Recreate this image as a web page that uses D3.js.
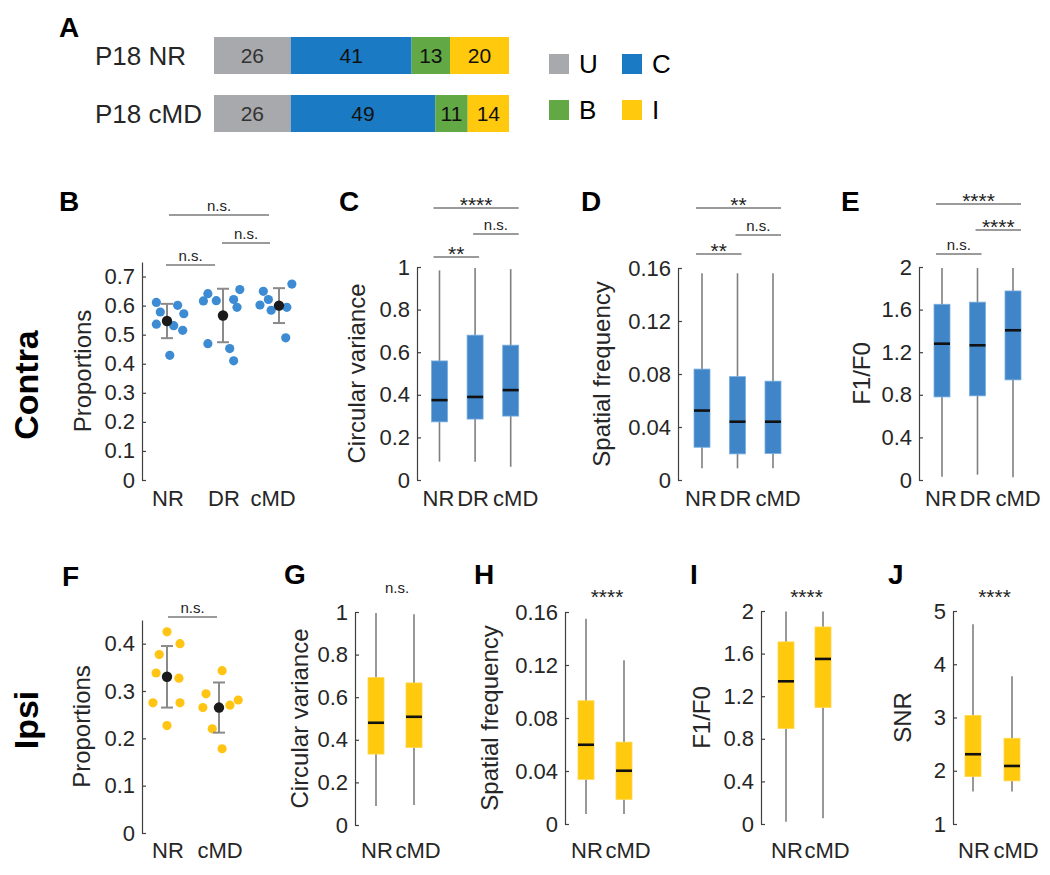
<!DOCTYPE html>
<html>
<head>
<meta charset="utf-8">
<script src="https://cdn.jsdelivr.net/npm/d3@7"></script>
<style>
  body { margin: 0; background: #fff; }
  svg text { font-family: Arial, "Liberation Sans", Helvetica, sans-serif; fill: #262626; }
</style>
</head>
<body>
<svg id="fig" width="1050" height="875"></svg>
<script>
// ---------------- data ----------------
// A: percentage of cells per class
var stackRows = ["P18 NR", "P18 cMD"];
var stackKeys = ["U", "C", "B", "I"];
var stackNR = [26, 41, 13, 20];
var stackCMD = [26, 49, 11, 14];

// B: contra proportions, one value per animal
var contraGroups = ["NR", "DR", "cMD"];
var propContraNR = [0.611, 0.578, 0.536, 0.601, 0.572, 0.531, 0.515, 0.429];
var propContraDR = [0.616, 0.641, 0.617, 0.621, 0.655, 0.594, 0.469, 0.452, 0.410];
var propContraCMD = [0.602, 0.649, 0.621, 0.584, 0.594, 0.674, 0.489];
var jitContraNR = [-0.19, -0.12, -0.19, 0.19, 0.30, 0.12, 0.28, 0.05];
var jitContraDR = [-0.35, -0.27, -0.12, 0.19, 0.30, 0.25, -0.27, 0.12, 0.19];
var jitContraCMD = [-0.34, -0.28, -0.19, -0.14, 0.14, 0.23, 0.12];
var propContraMean = [0.547, 0.566, 0.600];
var propContraSD = [0.059, 0.092, 0.060];

// box stats: [whisker low, q1, median, q3, whisker high]
var cvContra = [[0.086, 0.273, 0.375, 0.559, 0.984], [0.086, 0.286, 0.390, 0.680, 0.995], [0.062, 0.300, 0.422, 0.633, 0.990]];
var sfContra = [[0.0088, 0.0247, 0.0524, 0.0837, 0.156], [0.0088, 0.0197, 0.0440, 0.0780, 0.156], [0.0088, 0.0200, 0.0440, 0.0746, 0.156]];
var f1Contra = [[0.03, 0.78, 1.28, 1.65, 1.99], [0.05, 0.79, 1.265, 1.67, 1.99], [0.025, 0.94, 1.406, 1.775, 1.99]];

// F: ipsi proportions
var ipsiGroups = ["NR", "cMD"];
var propIpsiNR = [0.425, 0.377, 0.400, 0.338, 0.327, 0.275, 0.275, 0.227];
var propIpsiCMD = [0.343, 0.294, 0.281, 0.270, 0.265, 0.220, 0.178];
var jitIpsiNR = [0, -0.15, 0.25, -0.21, 0.23, -0.27, 0.25, 0];
var jitIpsiCMD = [0.06, -0.25, 0.37, 0.21, -0.31, -0.13, 0.06];
var propIpsiMean = [0.33, 0.265];
var propIpsiSD = [0.065, 0.053];

var cvIpsi = [[0.089, 0.333, 0.480, 0.692, 0.995], [0.094, 0.364, 0.508, 0.667, 0.990]];
var sfIpsi = [[0.0075, 0.0337, 0.0598, 0.093, 0.155], [0.0075, 0.0186, 0.0402, 0.0618, 0.1236]];
var f1Ipsi = [[0.022, 0.897, 1.34, 1.71, 1.995], [0.053, 1.094, 1.55, 1.85, 1.995]];
var snrIpsi = [[1.61, 1.89, 2.31, 3.04, 4.75], [1.61, 1.81, 2.09, 2.61, 3.775]];

// tick values
var ticksPropContra = [0, 0.1, 0.2, 0.3, 0.4, 0.5, 0.6, 0.7];
var ticksPropIpsi = [0, 0.1, 0.2, 0.3, 0.4];
var ticksCV = [0, 0.2, 0.4, 0.6, 0.8, 1];
var ticksSF = [0, 0.04, 0.08, 0.12, 0.16];
var ticksF1 = [0, 0.4, 0.8, 1.2, 1.6, 2];
var ticksSNR = [1, 2, 3, 4, 5];

// significance: [from, to, label]
var sigB = [["NR", "cMD", "n.s."], ["DR", "cMD", "n.s."], ["NR", "DR", "n.s."]];
var sigC = [["NR", "cMD", "****"], ["DR", "cMD", "n.s."], ["NR", "DR", "**"]];
var sigD = [["NR", "cMD", "**"], ["DR", "cMD", "n.s."], ["NR", "DR", "**"]];
var sigE = [["NR", "cMD", "****"], ["DR", "cMD", "****"], ["NR", "DR", "n.s."]];
var sigF = [["NR", "cMD", "n.s."]];

// ---------------- drawing ----------------
var svg = d3.select("#fig");
var BLUE = "#3f85c7", BLUE_DOT = "#3d8cd3", YELLOW = "#ffc90e", YELLOW_DOT = "#ffc414";
var stackColors = d3.scaleOrdinal().domain(stackKeys).range(["#a7a9ac", "#1a7bc4", "#62a845", "#ffc90e"]);
var TICK_FS = 22, LABEL_FS = 24;

function letter(t, x, y) {
  svg.append("text").attr("x", x).attr("y", y)
    .attr("font-size", 28).attr("font-weight", "bold").style("fill", "#000").text(t);
}

function fmt(d) { return String(+d.toFixed(4)); }

function yAxis(ax, y, ticks, minor, label, labelX) {
  var g = svg.append("g").attr("transform", "translate(" + ax + ",0)");
  g.call(d3.axisLeft(y).tickValues(minor).tickSize(-4).tickSizeOuter(0).tickFormat(""));
  g.call(d3.axisLeft(y).tickValues(ticks).tickSize(-4).tickSizeOuter(0).tickPadding(7).tickFormat(fmt));
  g.selectAll("path, line").attr("stroke", "#404040").attr("stroke-width", 1.2);
  g.selectAll("text").attr("font-size", TICK_FS).attr("font-family", null).attr("fill", null);
  var mid = (y.range()[0] + y.range()[1]) / 2;
  svg.append("text").attr("transform", "translate(" + labelX + "," + mid + ") rotate(-90)")
    .attr("text-anchor", "middle").attr("dy", "0.35em").attr("font-size", LABEL_FS).text(label);
}

// category labels: nudged apart a bit so the words don't touch
function xLabels(x, groups, yPos, shift) {
  shift = shift || (groups.length === 3 ? [-1, -2, 5] : [1, 4]);
  svg.append("g").selectAll("text").data(groups).join("text")
    .attr("x", function(d, i) { return x(d) + shift[i]; }).attr("y", yPos)
    .attr("text-anchor", "middle").attr("font-size", TICK_FS).text(function(d) { return d; });
}

function brackets(x, sig, ys, padL, padR) {
  var g = svg.append("g");
  sig.forEach(function(s, i) {
    var x1 = x(s[0]) + padL[i], x2 = x(s[1]) + padR[i], ly = ys[i];
    g.append("line").attr("x1", x1).attr("x2", x2).attr("y1", ly).attr("y2", ly)
      .attr("stroke", "#7a7a7a").attr("stroke-width", 1.6);
    sigText(g, (x1 + x2) / 2, ly, s[2]);
  });
}

function sigText(g, cx, ly, label) {
  var star = label.indexOf("*") >= 0;
  g.append("text").attr("x", cx).attr("y", star ? ly + 4 : ly - 4)
    .attr("text-anchor", "middle").attr("font-size", star ? 21 : 15)
    .style("fill", "#222").text(label);
}

function boxPanel(o) {
  var y = d3.scaleLinear().domain(o.domain).range(o.yRange);
  var x = d3.scalePoint().domain(o.groups).range(o.xRange);
  yAxis(o.ax, y, o.ticks, o.minor, o.label, o.labelX);
  var g = svg.append("g");
  var bw = 16;
  g.selectAll(".wh").data(o.stats).join("line").attr("class", "wh")
    .attr("x1", function(d, i) { return x(o.groups[i]); })
    .attr("x2", function(d, i) { return x(o.groups[i]); })
    .attr("y1", function(d) { return y(d[0]); })
    .attr("y2", function(d) { return y(d[4]); })
    .attr("stroke", "#7f7f7f").attr("stroke-width", 1.6);
  g.selectAll(".bx").data(o.stats).join("rect").attr("class", "bx")
    .attr("x", function(d, i) { return x(o.groups[i]) - bw / 2; })
    .attr("y", function(d) { return y(d[3]); })
    .attr("width", bw)
    .attr("height", function(d) { return y(d[1]) - y(d[3]); })
    .attr("fill", o.color).attr("stroke", o.edge).attr("stroke-width", 0.8);
  g.selectAll(".md").data(o.stats).join("line").attr("class", "md")
    .attr("x1", function(d, i) { return x(o.groups[i]) - bw / 2; })
    .attr("x2", function(d, i) { return x(o.groups[i]) + bw / 2; })
    .attr("y1", function(d) { return y(d[2]); })
    .attr("y2", function(d) { return y(d[2]); })
    .attr("stroke", "#111").attr("stroke-width", 2.6);
  xLabels(x, o.groups, o.xLabelY);
  if (o.sig) brackets(x, o.sig, o.sigY, [-6, -2, -6], [8, 8, 4]);
  if (o.single) sigText(svg, (o.xRange[0] + o.xRange[1]) / 2 + 2, o.single[1], o.single[0]);
  letter(o.letter, o.letterPos[0], o.letterPos[1]);
}

function dotPanel(o) {
  var y = d3.scaleLinear().domain(o.domain).range(o.yRange);
  var x = d3.scalePoint().domain(o.groups).range(o.xRange);
  var step = x.step();
  yAxis(o.ax, y, o.ticks, o.minor, "Proportions", o.labelX);
  var g = svg.append("g");
  o.values.forEach(function(vals, i) {
    var cx = x(o.groups[i]);
    g.selectAll(null).data(vals).join("circle")
      .attr("cx", function(d, j) { return cx + o.jitter[i][j] * step; })
      .attr("cy", function(d) { return y(d); })
      .attr("r", 4.6).attr("fill", o.dot);
    var lo = y(o.mean[i] - o.sd[i]), hi = y(o.mean[i] + o.sd[i]);
    g.append("line").attr("x1", cx).attr("x2", cx).attr("y1", lo).attr("y2", hi)
      .attr("stroke", "#8a8a8a").attr("stroke-width", 2);
    [lo, hi].forEach(function(v) {
      g.append("line").attr("x1", cx - 6).attr("x2", cx + 6).attr("y1", v).attr("y2", v)
        .attr("stroke", "#8a8a8a").attr("stroke-width", 2);
    });
    g.append("circle").attr("cx", cx).attr("cy", y(o.mean[i])).attr("r", 5.2).attr("fill", "#1a1a1a");
  });
  xLabels(x, o.groups, o.xLabelY, o.labelShift);
  brackets(x, o.sig, o.sigY, o.padL, o.padR);
  letter(o.letter, o.letterPos[0], o.letterPos[1]);
}

// ----- panel A -----
(function() {
  var x = d3.scaleLinear().domain([0, 100]).range([214, 509]);
  var yb = d3.scaleBand().domain(stackRows).range([37, 132]).paddingInner(21 / 58);
  var rows = [stackNR, stackCMD];
  var g = svg.append("g");
  rows.forEach(function(vals, r) {
    var ends = d3.cumsum(vals);
    var segs = vals.map(function(v, i) { return { key: stackKeys[i], v: v, x0: ends[i] - v, x1: ends[i] }; });
    var row = g.append("g");
    row.selectAll("rect").data(segs).join("rect")
      .attr("x", function(d) { return x(d.x0); })
      .attr("width", function(d) { return x(d.x1) - x(d.x0); })
      .attr("y", yb(stackRows[r])).attr("height", yb.bandwidth())
      .attr("fill", function(d) { return stackColors(d.key); });
    row.selectAll("text").data(segs).join("text")
      .attr("x", function(d) { return x((d.x0 + d.x1) / 2); })
      .attr("y", yb(stackRows[r]) + yb.bandwidth() / 2)
      .attr("dy", "0.36em").attr("text-anchor", "middle").attr("font-size", 21)
      .style("fill", function(d) { return d.key === "U" ? "#333" : "#111"; })
      .text(function(d) { return d.v; });
    g.append("text").attr("x", 95).attr("y", yb(stackRows[r]) + yb.bandwidth() / 2)
      .attr("dy", "0.36em").attr("font-size", 26).text(stackRows[r]);
  });
  var lx = d3.scalePoint().domain([0, 1]).range([549, 622]);
  var ly = d3.scalePoint().domain([0, 1]).range([54, 100]);
  var leg = svg.append("g").selectAll("g").data(stackKeys).join("g")
    .attr("transform", function(d, i) { return "translate(" + lx(i % 2) + "," + ly(Math.floor(i / 2)) + ")"; });
  leg.append("rect").attr("width", 20).attr("height", 20).attr("fill", function(d) { return stackColors(d); });
  leg.append("text").attr("x", 30).attr("y", 10).attr("dy", "0.36em").attr("font-size", 26)
    .style("fill", "#000").text(function(d) { return d; });
  letter("A", 59, 37);
})();

// ----- row labels -----
svg.append("text").attr("transform", "translate(26,385) rotate(-90)").attr("text-anchor", "middle")
  .attr("dy", "0.35em").attr("font-size", 34).attr("font-weight", "bold").style("fill", "#000").text("Contra");
svg.append("text").attr("transform", "translate(26,720) rotate(-90)").attr("text-anchor", "middle")
  .attr("dy", "0.35em").attr("font-size", 34).attr("font-weight", "bold").style("fill", "#000").text("Ipsi");

// ----- contra row -----
dotPanel({
  letter: "B", letterPos: [59, 211], ax: 142, domain: [0, 0.75], yRange: [480, 262],
  ticks: ticksPropContra, minor: ticksPropContra, labelX: 83,
  groups: contraGroups, xRange: [167, 279], xLabelY: 506, labelShift: [1, 1, -6],
  values: [propContraNR, propContraDR, propContraCMD],
  jitter: [jitContraNR, jitContraDR, jitContraCMD],
  mean: propContraMean, sd: propContraSD, dot: BLUE_DOT,
  sig: sigB, sigY: [215, 243, 265], padL: [2, -1, -1], padR: [-10, -9, -8]
});
boxPanel({
  letter: "C", letterPos: [339, 211], ax: 417, domain: [0, 1], yRange: [480, 267],
  ticks: ticksCV, minor: d3.range(0, 11).map(function(i) { return i / 10; }),
  label: "Circular variance", labelX: 357,
  groups: contraGroups, xRange: [439.5, 510.7], xLabelY: 506,
  stats: cvContra, color: BLUE, edge: "#78aee0", sig: sigC, sigY: [208, 234, 257]
});
boxPanel({
  letter: "D", letterPos: [581, 211], ax: 678, domain: [0, 0.16], yRange: [480, 268],
  ticks: ticksSF, minor: d3.range(0, 9).map(function(i) { return i * 0.02; }),
  label: "Spatial frequency", labelX: 602,
  groups: contraGroups, xRange: [702, 773], xLabelY: 506,
  stats: sfContra, color: BLUE, edge: "#78aee0", sig: sigD, sigY: [208, 235, 254]
});
boxPanel({
  letter: "E", letterPos: [841, 211], ax: 919, domain: [0, 2], yRange: [480, 267],
  ticks: ticksF1, minor: d3.range(0, 11).map(function(i) { return i * 0.2; }),
  label: "F1/F0", labelX: 862,
  groups: contraGroups, xRange: [942, 1013], xLabelY: 506,
  stats: f1Contra, color: BLUE, edge: "#78aee0", sig: sigE, sigY: [204, 230, 254]
});

// ----- ipsi row -----
dotPanel({
  letter: "F", letterPos: [62, 586], ax: 142, domain: [0, 0.45], yRange: [833, 620],
  ticks: ticksPropIpsi, minor: d3.range(0, 10).map(function(i) { return i * 0.05; }), labelX: 82,
  groups: ipsiGroups, xRange: [167, 219], xLabelY: 858, labelShift: [1, 1],
  values: [propIpsiNR, propIpsiCMD], jitter: [jitIpsiNR, jitIpsiCMD],
  mean: propIpsiMean, sd: propIpsiSD, dot: YELLOW_DOT,
  sig: sigF, sigY: [617], padL: [1], padR: [-2]
});
boxPanel({
  letter: "G", letterPos: [284, 584], ax: 355, domain: [0, 1], yRange: [825, 612],
  ticks: ticksCV, minor: d3.range(0, 11).map(function(i) { return i / 10; }),
  label: "Circular variance", labelX: 300,
  groups: ipsiGroups, xRange: [376, 414], xLabelY: 858,
  stats: cvIpsi, color: YELLOW, edge: "#ffd84d", single: ["n.s.", 597]
});
boxPanel({
  letter: "H", letterPos: [474, 584], ax: 565, domain: [0, 0.16], yRange: [824, 612],
  ticks: ticksSF, minor: d3.range(0, 9).map(function(i) { return i * 0.02; }),
  label: "Spatial frequency", labelX: 490,
  groups: ipsiGroups, xRange: [586, 624], xLabelY: 858,
  stats: sfIpsi, color: YELLOW, edge: "#ffd84d", single: ["****", 600]
});
boxPanel({
  letter: "I", letterPos: [690, 584], ax: 761, domain: [0, 2], yRange: [824, 611],
  ticks: ticksF1, minor: d3.range(0, 11).map(function(i) { return i * 0.2; }),
  label: "F1/F0", labelX: 702,
  groups: ipsiGroups, xRange: [786, 823], xLabelY: 858,
  stats: f1Ipsi, color: YELLOW, edge: "#ffd84d", single: ["****", 600]
});
boxPanel({
  letter: "J", letterPos: [888, 584], ax: 953, domain: [1, 5], yRange: [824, 611],
  ticks: ticksSNR, minor: d3.range(0, 9).map(function(i) { return 1 + i * 0.5; }),
  label: "SNR", labelX: 903,
  groups: ipsiGroups, xRange: [973, 1012], xLabelY: 858,
  stats: snrIpsi, color: YELLOW, edge: "#ffd84d", single: ["****", 600]
});
</script>
</body>
</html>
